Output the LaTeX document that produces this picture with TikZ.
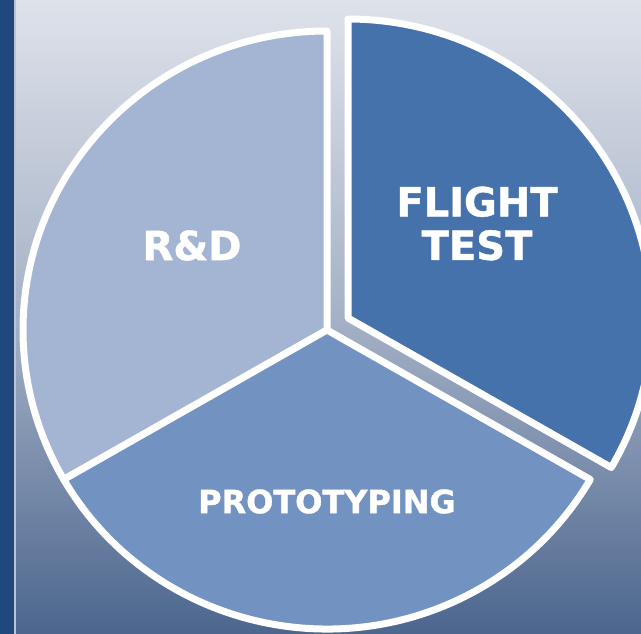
\documentclass[tikz,border=0pt]{standalone}
\usepackage{fontspec}
\newfontfamily\labelfont[BoldFeatures={FakeBold=1.2}]{DejaVu Sans}
\definecolor{stripblue}{RGB}{31,73,125}
\definecolor{stripline}{RGB}{184,196,216}
\definecolor{bgtop}{RGB}{222,226,234}
\definecolor{bgmid}{RGB}{165,177,198}
\definecolor{bgbot}{RGB}{76,102,142}
\definecolor{rdfill}{RGB}{164,181,212}
\definecolor{protofill}{RGB}{114,146,194}
\definecolor{flightfill}{RGB}{69,114,170}
\tikzset{
  slice/.style={draw=white, line width=7pt, line join=round},
  lbl/.style={text=white, inner sep=0pt, font=\labelfont\bfseries, align=center}
}
\begin{document}
\begin{tikzpicture}[x=1pt,y=1pt]
\useasboundingbox (0,0) rectangle (641,-634);
\begin{scope}
\clip (0,0) rectangle (641,-634);
% background
\shade[top color=bgtop, bottom color=bgbot, middle color=bgmid] (0,0) rectangle (641,-634);
\fill[stripblue] (0,0) rectangle (14,-634);
\fill[stripline] (14,0) rectangle (16,-634);
% centres
\coordinate (C) at (327,-330);
\coordinate (F) at (348,-318);
% shadows
\foreach \s/\o in {4/0.08,2.5/0.12,1.2/0.15}{
  \fill[black, opacity=\o, shift={(\s,-\s)}] (C) -- ++(90:307pt and 302pt) arc[start angle=90, end angle=210, x radius=307pt, y radius=302pt] -- cycle;
  \fill[black, opacity=\o, shift={(\s,-\s)}] (C) -- ++(210:307pt and 302pt) arc[start angle=210, end angle=330, x radius=307pt, y radius=302pt] -- cycle;
  \fill[black, opacity=\o, shift={(\s,-\s)}] (F) -- ++(-30:307pt and 302pt) arc[start angle=-30, end angle=90, x radius=307pt, y radius=302pt] -- cycle;
}
% slices
\path[slice, fill=rdfill] (C) -- ++(90:304pt and 299pt) arc[start angle=90, end angle=210, x radius=304pt, y radius=299pt] -- cycle;
\path[slice, fill=protofill] (C) -- ++(210:304pt and 299pt) arc[start angle=210, end angle=330, x radius=304pt, y radius=299pt] -- cycle;
\path[slice, fill=flightfill] (F) -- ++(-30:304pt and 299pt) arc[start angle=-30, end angle=90, x radius=304pt, y radius=299pt] -- cycle;
\end{scope}
% labels
\node[lbl, font=\labelfont\bfseries\fontsize{40}{44}\selectfont] (rd) at (192,-245.5) {R\&D};
\node[lbl, font=\labelfont\bfseries\fontsize{40}{43.5}\selectfont] (flight) at (477,-223.5) {FLIGHT\\TEST};
\node[lbl, font=\labelfont\bfseries\fontsize{32}{36}\selectfont] (proto) at (327,-501.5) {PROTOTYPING};
\end{tikzpicture}
\end{document}
